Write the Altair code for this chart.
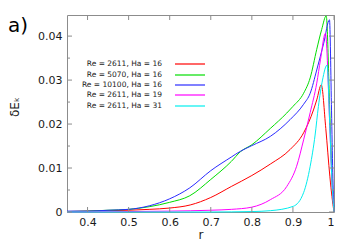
import altair as alt
import pandas as pd

# ---- data ----
red_r = [0.35, 0.40, 0.45, 0.50, 0.55, 0.60, 0.65, 0.70, 0.75, 0.80, 0.845, 0.893, 0.926, 0.95, 0.958, 0.969, 0.98, 0.99, 0.995, 1.0]
red_v = [0.0001, 0.0002, 0.0003, 0.0004, 0.0006, 0.0009, 0.0016, 0.0033, 0.0058, 0.0083, 0.0109, 0.0142, 0.0180, 0.0232, 0.0255, 0.0289, 0.0190, 0.0080, 0.0035, 0.0]

green_r = [0.35, 0.40, 0.45, 0.50, 0.55, 0.60, 0.649, 0.70, 0.75, 0.772, 0.80, 0.845, 0.885, 0.90, 0.926, 0.942, 0.958, 0.97, 0.981, 0.99, 0.995, 1.0]
green_v = [0.0001, 0.0002, 0.0004, 0.0006, 0.0012, 0.0022, 0.0037, 0.0074, 0.0115, 0.0137, 0.0153, 0.0190, 0.0225, 0.0240, 0.0270, 0.0305, 0.0370, 0.0415, 0.0446, 0.0220, 0.0080, 0.0]

blue_r = [0.35, 0.40, 0.45, 0.50, 0.55, 0.60, 0.649, 0.70, 0.75, 0.772, 0.80, 0.845, 0.893, 0.926, 0.942, 0.958, 0.975, 0.989, 0.994, 0.997, 1.0]
blue_v = [0.0002, 0.0002, 0.0004, 0.0006, 0.0014, 0.0030, 0.0055, 0.0094, 0.0125, 0.0138, 0.0151, 0.0172, 0.0210, 0.0245, 0.0270, 0.0323, 0.0384, 0.0437, 0.0230, 0.0090, 0.0]

mag_r = [0.35, 0.50, 0.60, 0.70, 0.75, 0.80, 0.845, 0.885, 0.909, 0.926, 0.942, 0.958, 0.967, 0.979, 0.99, 0.995, 1.0]
mag_v = [0.0, 0.0001, 0.0002, 0.0004, 0.0006, 0.0011, 0.0028, 0.0058, 0.0104, 0.0164, 0.0226, 0.0293, 0.0346, 0.0406, 0.0190, 0.0070, 0.0]

cyan_r = [0.35, 0.70, 0.80, 0.845, 0.901, 0.926, 0.942, 0.954, 0.962, 0.972, 0.983, 0.99, 0.995, 1.0]
cyan_v = [0.0, 0.0, 0.0001, 0.0003, 0.0013, 0.0044, 0.0104, 0.0175, 0.0240, 0.0300, 0.0334, 0.0190, 0.0070, 0.0]

labels = ["Re = 2611, Ha = 16", "Re = 5070, Ha = 16", "Re = 10100, Ha = 16",
          "Re = 2611, Ha = 19", "Re = 2611, Ha = 31"]
colors = ["#ff0000", "#00dd00", "#2a2aff", "#ff00ff", "#00eeee"]

x_ticks = [0.4, 0.5, 0.6, 0.7, 0.8, 0.9, 1.0]
y_ticks = [0.0, 0.01, 0.02, 0.03, 0.04]
y_minor = [0.005, 0.015, 0.025, 0.035]

# ---- build tables ----
rows = []
for lab, rr, vv in zip(labels, [red_r, green_r, blue_r, mag_r, cyan_r],
                       [red_v, green_v, blue_v, mag_v, cyan_v]):
    for a, b in zip(rr, vv):
        rows.append({"series": lab, "r": a, "v": b})
df = pd.DataFrame(rows)

W, H = 267, 197
FONT = "DejaVu Sans"
TXT = "#1a1a1a"

xs = alt.Scale(domain=[0.35, 1.0], nice=False, zero=False)
ys = alt.Scale(domain=[0, 0.0448], nice=False)

lines = alt.Chart(df).mark_line(strokeWidth=1, interpolate="monotone").encode(
    x=alt.X("r:Q", scale=xs, axis=alt.Axis(values=x_ticks, title="r", titleFontSize=12,
                                            titleFontWeight="normal", titlePadding=2,
                                            labelPadding=4,
                                            labelExpr="datum.value == 1 ? '1' : format(datum.value, '.1f')")),
    y=alt.Y("v:Q", scale=ys, axis=alt.Axis(values=y_ticks, title=None, labelPadding=5,
                                            labelExpr="datum.value == 0 ? '0' : format(datum.value, '.2f')")),
    color=alt.Color("series:N", scale=alt.Scale(domain=labels, range=colors), legend=None),
    order="r:Q",
)

# inward ticks
yt = pd.DataFrame({"v": y_ticks})
ym = pd.DataFrame({"v": y_minor})
xt = pd.DataFrame({"r": x_ticks})
tick_col = "#8c8c8c"
ticks = [
    alt.Chart(yt).mark_rule(color=tick_col).encode(y=alt.Y("v:Q", scale=ys), x=alt.value(0), x2=alt.value(5)),
    alt.Chart(yt).mark_rule(color=tick_col).encode(y=alt.Y("v:Q", scale=ys), x=alt.value(W), x2=alt.value(W - 5)),
    alt.Chart(ym).mark_rule(color=tick_col).encode(y=alt.Y("v:Q", scale=ys), x=alt.value(0), x2=alt.value(3)),
    alt.Chart(ym).mark_rule(color=tick_col).encode(y=alt.Y("v:Q", scale=ys), x=alt.value(W), x2=alt.value(W - 3)),
    alt.Chart(xt).mark_rule(color=tick_col).encode(x=alt.X("r:Q", scale=xs), y=alt.value(H), y2=alt.value(H - 5)),
    alt.Chart(xt).mark_rule(color=tick_col).encode(x=alt.X("r:Q", scale=xs), y=alt.value(0), y2=alt.value(5)),
]

# legend (text then line sample)
leg = pd.DataFrame({"label": labels, "color": colors, "ly": [49, 60, 70, 80, 91]})
leg_text = alt.Chart(leg).mark_text(align="right", baseline="middle", font=FONT, fontSize=7.5,
                                    color=TXT).encode(
    x=alt.value(95), y=alt.Y("ly:Q", scale=None), text="label:N")
leg_line = alt.Chart(leg).mark_rule(strokeWidth=1.2).encode(
    x=alt.value(108), x2=alt.value(138), y=alt.Y("ly:Q", scale=None),
    color=alt.Color("color:N", scale=None))

ytitle = alt.Chart(pd.DataFrame({"t": ["δEₖ"]})).mark_text(
    angle=270, align="center", baseline="middle", font=FONT, fontSize=12, color=TXT).encode(
    x=alt.value(-52), y=alt.value(92), text="t:N")
panel = alt.Chart(pd.DataFrame({"t": ["a)"]})).mark_text(
    align="left", baseline="alphabetic", font=FONT, fontSize=20, color="#000000").encode(
    x=alt.value(-59), y=alt.value(17), text="t:N")

chart = alt.layer(lines, *ticks, leg_text, leg_line, ytitle, panel).properties(
    width=W, height=H,
    autosize=alt.AutoSizeParams(type="none"),
    padding={"left": 59, "top": 7, "right": 12, "bottom": 36},
).configure_view(stroke="#8c8c8c", strokeWidth=1).configure_axis(
    domain=False, ticks=False, grid=False, labelFont=FONT, labelFontSize=11,
    labelColor=TXT, titleFont=FONT, titleColor=TXT,
)

chart.save("out.html", embed_options={"renderer": "svg", "actions": False})
